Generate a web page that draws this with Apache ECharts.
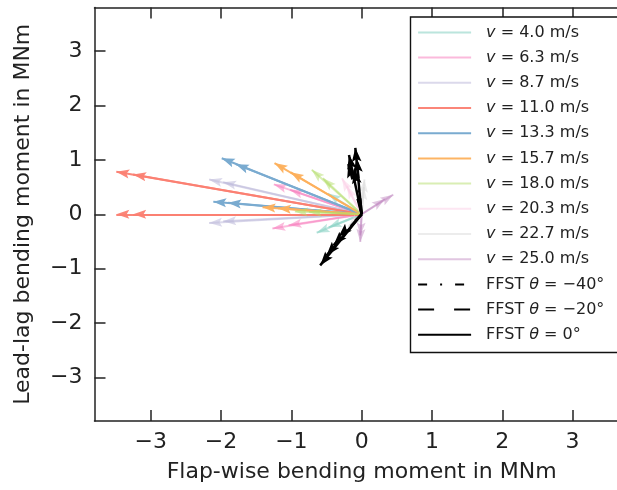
<!DOCTYPE html>
<html>
<head>
<meta charset="utf-8">
<script src="https://cdn.jsdelivr.net/npm/echarts@6/dist/echarts.min.js"></script>
<style>html,body{margin:0;padding:0;background:#fff}#c{width:617px;height:490px}</style>
</head>
<body>
<div id="c"></div>
<script>
// ---- data (MNm) ----
const speeds = ['4.0', '6.3', '8.7', '11.0', '13.3', '15.7', '18.0', '20.3', '22.7', '25.0'];
const speedColors = [
  'rgba(141,211,199,0.6)', 'rgba(247,129,191,0.55)', 'rgba(190,186,218,0.55)',
  'rgba(251,128,114,0.95)', 'rgba(122,171,208,1)', 'rgba(253,176,92,0.95)',
  'rgba(179,222,105,0.5)', 'rgba(252,205,229,0.5)', 'rgba(217,217,217,0.5)',
  'rgba(188,128,189,0.45)'
];
// arrow tips [flap-wise, lead-lag]; every arrow starts at the origin
const tipsV4_0  = [[-0.64, -0.34], [-0.47, -0.24], [-0.48, 0.38]];
const tipsV6_3  = [[-1.25, 0.55], [-1.02, 0.45], [-1.27, -0.26], [-1.04, -0.20]];
const tipsV8_7  = [[-2.17, 0.64], [-1.97, 0.59], [-2.17, -0.16], [-1.97, -0.13]];
const tipsV11_0 = [[-3.49, 0.78], [-3.25, 0.73], [-3.49, 0.0], [-3.25, 0.0]];
const tipsV13_3 = [[-1.99, 1.03], [-1.79, 0.92], [-2.11, 0.23], [-1.90, 0.21]];
const tipsV15_7 = [[-1.24, 0.94], [-1.01, 0.77], [-1.41, 0.13], [-1.19, 0.11]];
const tipsV18_0 = [[-0.71, 0.82], [-0.55, 0.66], [-0.95, 0.05], [-0.75, 0.04]];
const tipsV20_3 = [[-0.28, 0.66], [-0.21, 0.52]];
const tipsV22_7 = [[0.04, 0.64], [0.03, 0.50], [-0.19, -0.23]];
const tipsV25_0 = [[0.45, 0.36], [0.33, 0.28], [-0.02, -0.51], [-0.02, -0.39]];
const speedTips = [tipsV4_0, tipsV6_3, tipsV8_7, tipsV11_0, tipsV13_3, tipsV15_7, tipsV18_0, tipsV20_3, tipsV22_7, tipsV25_0];

const ffstAngles = ['−40', '−20', '0'];
const ffstTips40 = [[-0.10, 0.82], [-0.33, -0.42]];
const ffstTips20 = [[-0.07, 1.03], [-0.19, 0.93], [-0.40, -0.57]];
const ffstTips0  = [[-0.09, 1.22], [-0.18, 1.09], [-0.59, -0.94], [-0.50, -0.76]];
const ffstTips = [ffstTips40, ffstTips20, ffstTips0];
const ffstDash = [[9, 13, 2, 13], [16, 20], 'solid'];

const xTicks = [-3, -2, -1, 0, 1, 2, 3];
const yTicks = [-3, -2, -1, 0, 1, 2, 3];

// ---- chart ----
const FONT = 'DejaVu Sans';
const INK = '#222';
const ARROW = 'path://M0,0 M22,22 M11,11 L14.8,22 L11,19.8 L7.2,22 Z';

const speedNames = speeds.map(s => 'v = ' + s + ' m/s');
const ffstNames = ffstAngles.map(a => 'FFST θ = ' + a + '°');

const series = [];
speeds.forEach((s, i) => {
  series.push({
    name: '_arrows_' + s, type: 'lines', coordinateSystem: 'cartesian2d',
    symbol: ['none', ARROW], symbolSize: 26, silent: true,
    lineStyle: { color: speedColors[i], width: 2, opacity: 1 },
    data: speedTips[i].map(t => ({ coords: [[0, 0], t] }))
  });
});
ffstAngles.forEach((a, i) => {
  series.push({
    name: '_ffst_' + a, type: 'lines', coordinateSystem: 'cartesian2d',
    symbol: ['none', ARROW], symbolSize: 28, silent: true, z: 3,
    lineStyle: { color: '#000', width: 2.5, opacity: 1, type: ffstDash[i] },
    data: ffstTips[i].map(t => ({ coords: [[0, 0], t] }))
  });
});
// legend-only series
speedNames.forEach((n, i) => {
  series.push({ name: n, type: 'line', data: [], symbol: 'none',
    itemStyle: { color: speedColors[i] }, lineStyle: { color: speedColors[i], width: 2 } });
});
ffstNames.forEach((n, i) => {
  series.push({ name: n, type: 'line', data: [], symbol: 'none',
    itemStyle: { color: '#000' }, lineStyle: { color: '#000', width: 1.5, type: ffstDash[i] } });
});

const fmt = v => String(v).replace('-', '−');
const axLine = { show: true, onZero: false, lineStyle: { color: INK, width: 1.5 } };

const option = {
  animation: false,
  backgroundColor: '#fff',
  textStyle: { fontFamily: FONT },
  grid: { left: 94.5, top: 7.5, width: 534.3, height: 413.5, containLabel: false, outerBoundsMode: 'none' },
  xAxis: [{
    type: 'value', min: -3.8, max: 3.8, position: 'bottom',
    axisLine: axLine,
    axisTick: { inside: true, length: 11, customValues: xTicks, lineStyle: { color: INK, width: 1.5 } },
    axisLabel: { customValues: xTicks, formatter: fmt, fontSize: 22, color: INK, margin: 10, fontFamily: FONT },
    splitLine: { show: false },
    name: 'Flap-wise bending moment in MNm', nameLocation: 'middle', nameGap: 40,
    nameTextStyle: { fontSize: 22, color: INK, fontFamily: FONT }
  }, {
    type: 'value', min: -3.8, max: 3.8, position: 'top',
    axisLine: axLine,
    axisTick: { inside: true, length: 11, customValues: xTicks, lineStyle: { color: INK, width: 1.5 } },
    axisLabel: { show: false }, splitLine: { show: false }
  }],
  yAxis: [{
    type: 'value', min: -3.8, max: 3.8, position: 'left',
    axisLine: axLine,
    axisTick: { inside: true, length: 11, customValues: yTicks, lineStyle: { color: INK, width: 1.5 } },
    axisLabel: { customValues: yTicks, formatter: fmt, fontSize: 22, color: INK, margin: 12, fontFamily: FONT },
    splitLine: { show: false },
    name: 'Lead-lag bending moment in MNm', nameLocation: 'middle', nameGap: 60, nameRotate: 90,
    nameTextStyle: { fontSize: 22, color: INK, fontFamily: FONT }
  }],
  legend: {
    data: speedNames.concat(ffstNames),
    orient: 'vertical', left: 410.5, top: 17,
    padding: [7.4, 30, 9.7, 6.6],
    itemWidth: 53, itemHeight: 14, itemGap: 9.2,
    itemStyle: { opacity: 0 },
    backgroundColor: '#fff', borderColor: '#111', borderWidth: 1.4, borderRadius: 0,
    selectedMode: false,
    formatter: n => n.replace(/^v /, '{i|v} ').replace('θ', '{i|θ}'),
    textStyle: {
      fontFamily: FONT, fontSize: 16, color: INK, lineHeight: 14, padding: [0, 0, 0, 10],
      rich: { i: { fontStyle: 'italic', fontFamily: FONT, fontSize: 16, color: INK, lineHeight: 14 } }
    }
  },
  series: series
};

const chart = echarts.init(document.getElementById('c'), null, { renderer: 'canvas' });
chart.setOption(option);
</script>
</body>
</html>
